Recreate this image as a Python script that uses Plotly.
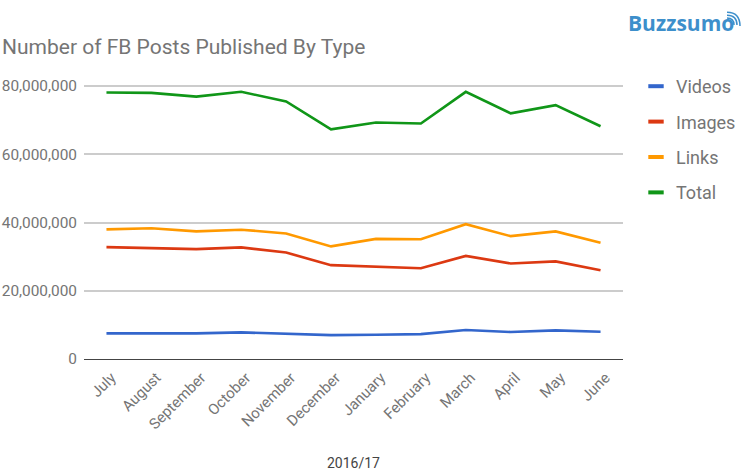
import plotly.graph_objects as go

months = ["July", "August", "September", "October", "November", "December",
          "January", "February", "March", "April", "May", "June"]

videos = [7.5e6, 7.5e6, 7.5e6, 7.8e6, 7.5e6, 7.0e6, 7.1e6, 7.3e6, 8.5e6, 7.9e6, 8.4e6, 8.0e6]
images = [32.8e6, 32.4e6, 32.2e6, 32.7e6, 31.2e6, 27.5e6, 27.0e6, 26.6e6, 30.2e6, 28.0e6, 28.6e6, 26.0e6]
links = [38.0e6, 38.3e6, 37.4e6, 37.9e6, 36.8e6, 33.0e6, 35.2e6, 35.1e6, 39.5e6, 36.0e6, 37.4e6, 34.1e6]
total = [78.1e6, 78.0e6, 76.9e6, 78.3e6, 75.5e6, 67.3e6, 69.3e6, 69.0e6, 78.3e6, 72.0e6, 74.4e6, 68.2e6]

series = [("Videos", videos, "#3366cc"), ("Images", images, "#dc3912"),
          ("Links", links, "#ff9900"), ("Total", total, "#109618")]

y_ticks = [0, 20000000, 40000000, 60000000, 80000000]

GREY = "#757575"
BLUE = "#3d8fcb"
FONT = "Roboto"

# plot area in page pixels
LEFT, RIGHT, TOP, BOTTOM = 84, 623, 85, 359.5


def px(x):
    return (x - LEFT) / (RIGHT - LEFT)


def py(y):
    return (BOTTOM - y) / (BOTTOM - TOP)


fig = go.Figure()
for name, vals, color in series:
    fig.add_trace(go.Scatter(x=months, y=vals, mode="lines", name=name, showlegend=False,
                             line=dict(color=color, width=2.6)))
    # legend only entry, the short swatch is a line marker
    fig.add_trace(go.Scatter(x=[None], y=[None], mode="markers", name=name, legendgroup=name,
                             marker=dict(symbol="line-ew", size=11, line=dict(color=color, width=4))))

fig.update_layout(
    width=748, height=472,
    margin=dict(l=LEFT, r=748 - RIGHT, t=TOP, b=472 - BOTTOM),
    paper_bgcolor="white", plot_bgcolor="white",
    font=dict(family=FONT, color=GREY, size=15),
    title=dict(text="Number of FB Posts Published By Type", x=2 / 748, xanchor="left",
               y=1 - 47 / 472, yanchor="middle", font=dict(size=21, color=GREY, family=FONT)),
    legend=dict(x=636 / 748, xref="container", y=1 - 68 / 472, yref="container", yanchor="top",
                xanchor="left", font=dict(size=18, color=GREY), tracegroupgap=9, itemwidth=30,
                bgcolor="rgba(0,0,0,0)"),
    xaxis=dict(tickangle=-45, tickfont=dict(size=15, color=GREY), showgrid=False, automargin=False,
               range=[-0.5, 11.5], ticks="", showline=False, ticklabelstandoff=6, ticklabelshift=5,
               title=dict(text="2016/17", font=dict(size=14, color="#444444"), standoff=26)),
    # a little headroom so plotly keeps the 80M gridline
    yaxis=dict(range=[0, 80300000], tickvals=y_ticks, tickformat=",d", ticks="", automargin=False,
               gridcolor="#cccccc", gridwidth=1.5, zeroline=True, zerolinecolor="#444444",
               zerolinewidth=1.3, tickfont=dict(size=15.4, color=GREY), showline=False,
               ticklabelstandoff=6),
)

# logo
fig.add_annotation(text="<b>Buzzsumo</b>", xref="paper", yref="paper",
                   x=px(626), y=py(23), xanchor="left", yanchor="middle",
                   showarrow=False, font=dict(family="Open Sans", size=21, color=BLUE))

for x0, y0, cx, cy, x1, y1 in [(727, 18, 734, 18, 734, 25), (727, 15, 737, 15, 737, 25), (727, 12, 740, 12, 740, 26)]:
    fig.add_shape(type="path", xref="paper", yref="paper",
                  path=f"M {px(x0)} {py(y0)} Q {px(cx)} {py(cy)} {px(x1)} {py(y1)}",
                  line=dict(color=BLUE, width=1.5))

fig.write_html("out.html", config={"displayModeBar": False},
               post_script="document.body.style.margin='0';")
